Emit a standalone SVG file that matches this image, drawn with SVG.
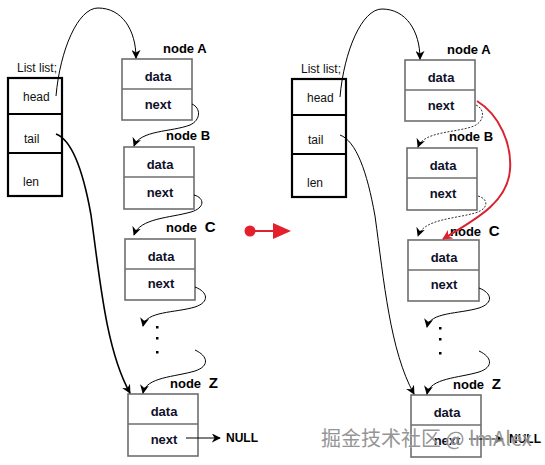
<svg xmlns="http://www.w3.org/2000/svg" width="545" height="465" viewBox="0 0 545 465">
<defs>
<marker id="ah" viewBox="0 0 10 10" refX="9" refY="5" markerWidth="9" markerHeight="9" markerUnits="userSpaceOnUse" orient="auto">
<path d="M0,0 L10,5 L0,10 L3,5 z" fill="#000"/>
</marker>
<marker id="ahr" viewBox="0 0 10 10" refX="9" refY="5" markerWidth="10" markerHeight="10" markerUnits="userSpaceOnUse" orient="auto">
<path d="M0,0 L10,5 L0,10 L3,5 z" fill="#d9232e"/>
</marker>
<style>
.lst{fill:#fff;stroke:#000;stroke-width:2.2}
.nd{fill:#fff;stroke:#6e6e6e;stroke-width:1.6}
.ft{font-family:"Liberation Sans",Arial,sans-serif;font-size:12px;fill:#111}
.fd{font-family:"Liberation Sans",Arial,sans-serif;font-size:13px;font-weight:bold;fill:#10102a;text-anchor:middle}
.nl{font-family:"Liberation Sans",Arial,sans-serif;font-size:13px;font-weight:bold;fill:#000}
.big{font-size:15px}
.c{fill:none;stroke:#000;stroke-width:1;marker-end:url(#ah)}
.dash{stroke-dasharray:2,1.5;stroke:#333}
.dot{fill:#000}
</style>
</defs>
<rect width="545" height="465" fill="#fff"/>

<!-- LEFT -->
<g id="listL">
<text class="ft" x="17" y="72">List list;</text>
<rect class="lst" x="8" y="78" width="54" height="118"/>
<line x1="8" y1="114" x2="62" y2="114" stroke="#000" stroke-width="2"/>
<line x1="8" y1="153" x2="62" y2="153" stroke="#000" stroke-width="2"/>
<text class="ft" x="23" y="101">head</text>
<text class="ft" x="24" y="143">tail</text>
<text class="ft" x="23" y="186">len</text>
</g>
<g id="nodeA_L">
<text class="nl" x="163" y="53">node A</text>
<rect class="nd" x="122" y="59" width="70" height="61"/>
<line x1="122" y1="89" x2="192" y2="89" stroke="#6e6e6e" stroke-width="1.6"/>
<text class="fd" x="158" y="81">data</text>
<text class="fd" x="158" y="109">next</text>
</g>
<g id="nodeB_L">
<text class="nl" x="166" y="140">node B</text>
<rect class="nd" x="124" y="147" width="70" height="62"/>
<line x1="124" y1="177" x2="194" y2="177" stroke="#6e6e6e" stroke-width="1.6"/>
<text class="fd" x="160" y="169">data</text>
<text class="fd" x="160" y="197">next</text>
</g>
<g id="nodeC_L">
<text class="nl" x="166" y="232">node <tspan class="big" dx="4">C</tspan></text>
<rect class="nd" x="125" y="239" width="70" height="61"/>
<line x1="125" y1="269" x2="195" y2="269" stroke="#6e6e6e" stroke-width="1.6"/>
<text class="fd" x="161" y="261">data</text>
<text class="fd" x="161" y="288">next</text>
</g>
<g id="dotsL">
<rect class="dot" x="156" y="326" width="2.5" height="2.5"/>
<rect class="dot" x="156" y="337" width="2.5" height="2.5"/>
<rect class="dot" x="156" y="351" width="2.5" height="2.5"/>
</g>
<g id="nodeZ_L">
<text class="nl" x="170" y="388">node <tspan class="big" dx="4">Z</tspan></text>
<rect class="nd" x="128" y="394" width="70" height="62"/>
<line x1="128" y1="424" x2="198" y2="424" stroke="#6e6e6e" stroke-width="1.6"/>
<text class="fd" x="164" y="416">data</text>
<text class="fd" x="164" y="444">next</text>
<text class="nl" x="226" y="442" style="font-size:12px">NULL</text>
</g>

<!-- RIGHT -->
<g id="listR">
<text class="ft" x="301" y="73">List list;</text>
<rect class="lst" x="292" y="79" width="54" height="118"/>
<line x1="292" y1="115" x2="346" y2="115" stroke="#000" stroke-width="2"/>
<line x1="292" y1="154" x2="346" y2="154" stroke="#000" stroke-width="2"/>
<text class="ft" x="307" y="102">head</text>
<text class="ft" x="308" y="144">tail</text>
<text class="ft" x="307" y="187">len</text>
</g>
<g id="nodeA_R">
<text class="nl" x="447" y="54">node A</text>
<rect class="nd" x="405" y="60" width="70" height="61"/>
<line x1="405" y1="90" x2="475" y2="90" stroke="#6e6e6e" stroke-width="1.6"/>
<text class="fd" x="441" y="82">data</text>
<text class="fd" x="441" y="110">next</text>
</g>
<g id="nodeB_R">
<text class="nl" x="449" y="141">node B</text>
<rect class="nd" x="407" y="148" width="70" height="62"/>
<line x1="407" y1="178" x2="477" y2="178" stroke="#6e6e6e" stroke-width="1.6"/>
<text class="fd" x="443" y="170">data</text>
<text class="fd" x="443" y="198">next</text>
</g>
<g id="nodeC_R">
<text class="nl" x="450" y="236">node <tspan class="big" dx="4">C</tspan></text>
<rect class="nd" x="408" y="240" width="71" height="61"/>
<line x1="408" y1="270" x2="479" y2="270" stroke="#6e6e6e" stroke-width="1.6"/>
<text class="fd" x="444" y="262">data</text>
<text class="fd" x="444" y="289">next</text>
</g>
<g id="dotsR">
<rect class="dot" x="439" y="327" width="2.5" height="2.5"/>
<rect class="dot" x="439" y="338" width="2.5" height="2.5"/>
<rect class="dot" x="439" y="352" width="2.5" height="2.5"/>
</g>
<g id="nodeZ_R">
<text class="nl" x="453" y="389">node <tspan class="big" dx="4">Z</tspan></text>
<rect class="nd" x="411" y="395" width="70" height="62"/>
<line x1="411" y1="425" x2="481" y2="425" stroke="#6e6e6e" stroke-width="1.6"/>
<text class="fd" x="447" y="417">data</text>
<text class="fd" x="447" y="445">next</text>
<text class="nl" x="509" y="443" style="font-size:12px">NULL</text>
</g>

<!-- middle arrow -->
<g id="transition">
<line x1="250" y1="231" x2="276" y2="231" stroke="#d9232e" stroke-width="2"/>
<circle cx="250" cy="231" r="5.5" fill="#e3202b"/>
<polygon points="273,223 291,231 273,239" fill="#e3202b"/>
</g>

<g id="connectors">
<!-- left -->
<path class="c" d="M56,96 C60,50 78,8 98,8 C122,8 136,30 136,58"/>
<path class="c" d="M192,104 C201,108 201,120 190,125 C172,132 140,130 134,146"/>
<path class="c" d="M194,195 C205,198 205,208 191,212 C170,218 140,218 134,235"/>
<path class="c" d="M195,287 C208,292 210,302 195,307 C175,313 146,311 143,326"/>
<path class="c" d="M195,350 C208,356 210,366 195,371 C175,377 146,377 143,393"/>
<path class="c" style="stroke-width:1.6" d="M56,134 C72,140 83,170 91,215 C100,280 106,350 130,393"/>
<path class="c" d="M186,438 L220,438"/>
<!-- right -->
<path class="c" d="M340,97 C344,51 362,9 382,9 C406,9 420,31 420,59"/>
<path class="c dash" d="M476,105 C485,109 485,121 474,126 C456,133 424,131 418,147"/>
<path class="c dash" d="M478,196 C489,199 489,209 475,213 C454,219 424,219 418,236"/>
<path class="c" d="M479,288 C492,293 494,303 479,308 C459,314 430,312 427,327"/>
<path class="c" d="M479,351 C492,357 494,367 479,372 C459,378 430,378 427,394"/>
<path class="c" d="M340,135 C356,141 367,171 375,216 C384,281 390,351 414,394"/>
<path class="c" d="M469,439 L503,439"/>
<path d="M477,101 C500,115 512,145 510,170 C507,205 470,222 443,239" fill="none" stroke="#d9232e" stroke-width="2" marker-end="url(#ahr)"/>
</g>

<text x="321" y="446" font-family="'Noto Sans CJK SC',sans-serif" font-size="20" fill="#8a8a8a" stroke="#fff" stroke-width="0.6" paint-order="stroke" opacity="0.9">掘金技术社区 @ lmAlex</text>
</svg>
